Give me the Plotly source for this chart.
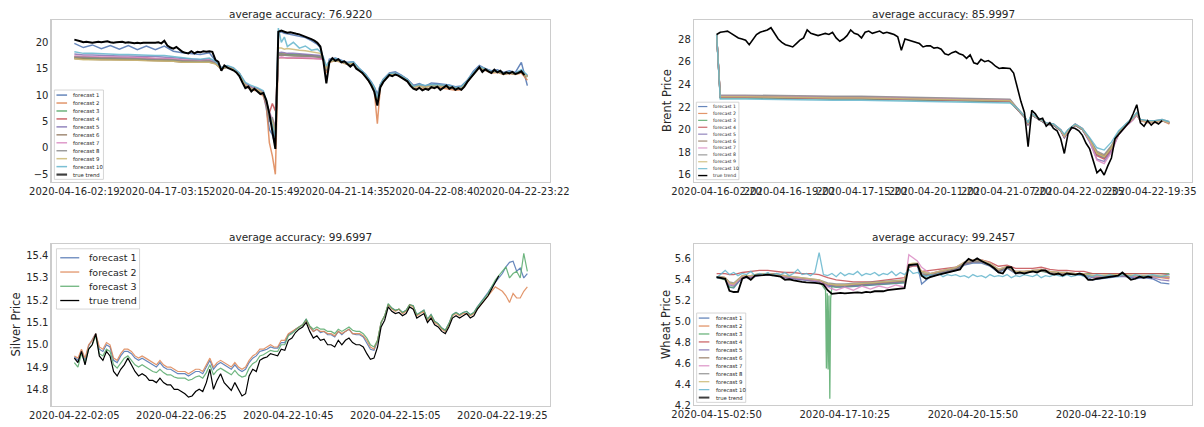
import plotly.graph_objects as go

W, H = 1204, 427
FONT = "DejaVu Sans"
INK = "#262626"
SPINE = "#cccccc"
PALETTE = ["#4C72B0", "#DD8452", "#55A868", "#C44E52", "#8172B3",
           "#937860", "#DA8BC3", "#8C8C8C", "#CCB974", "#64B5CD"]
LABELS10 = ["forecast 1", "forecast 2", "forecast 3", "forecast 4", "forecast 5",
            "forecast 6", "forecast 7", "forecast 8", "forecast 9", "forecast 10", "true trend"]
LABELS3 = ["forecast 1", "forecast 2", "forecast 3", "true trend"]

# ---------------- panel 1 ----------------
P1_TITLE = "average accuracy: 76.9220"
P1_XTICKS = [0, 30, 60, 90, 120, 150]
P1_XLABELS = ["2020-04-16-02:19", "2020-04-17-03:15", "2020-04-20-15:49",
              "2020-04-21-14:35", "2020-04-22-08:40", "2020-04-22-23:22"]
P1_YTICKS = [-5, 0, 5, 10, 15, 20]
P1_YLABELS = ["\u22125", "0", "5", "10", "15", "20"]
P1_TRUE = [20.5, 20.4, 20.2, 20.0, 20.1, 20.0, 19.9, 20.0, 20.1, 20.0,
           20.1, 20.2, 20.0, 19.9, 20.0, 20.1, 20.1, 19.9, 20.0, 19.9,
           19.8, 19.9, 19.8, 19.9, 19.9, 19.8, 19.9, 19.9, 20.0, 19.8,
           20.3, 19.4, 19.0, 18.8, 19.1, 18.6, 18.2, 18.0, 17.9, 18.3,
           17.9, 18.2, 18.1, 18.3, 18.2, 18.3, 18.2, 16.7, 16.3, 14.6,
           15.6, 15.2, 15.0, 14.7, 14.3, 13.6, 12.4, 11.3, 11.6, 10.7,
           11.2, 10.6, 10.2, 10.4, 9.0, 6.5, 3.5, -0.2, 22.0, 22.2,
           22.0, 21.8, 21.9, 21.7, 21.6, 21.5, 21.3, 21.1, 20.9, 20.6,
           20.3, 19.9, 19.2, 16.5, 12.2, 16.2, 17.0, 16.5, 16.8, 16.2,
           16.4, 15.8, 15.4, 15.9, 15.0, 14.6, 14.2, 13.5, 12.8, 11.8,
           10.6, 8.0, 11.5, 12.5, 13.2, 13.8, 13.6, 13.9, 13.7, 13.3,
           13.0, 12.6, 11.8, 11.2, 11.0, 11.4, 10.9, 11.2, 11.0, 11.5,
           11.3, 11.6, 11.0, 11.4, 11.8, 11.2, 11.5, 11.0, 11.3, 11.0,
           11.6, 12.5, 13.2, 14.0, 14.6, 15.3, 14.4, 14.9, 14.5, 14.2,
           14.8, 14.3, 14.6, 14.0, 14.3, 14.1, 14.4, 14.0, 14.2, 14.5,
           13.8]
P1_FX = [0, 3, 6, 9, 12, 15, 18, 21, 24, 27, 30, 33, 36, 39, 42, 45,
         47, 49, 51, 53, 55, 57, 59, 61, 63,
         64, 65, 66, 67,
         68, 69, 70, 71, 73, 75, 77, 79, 81, 82,
         83, 84, 85, 87, 89, 91, 93, 95, 97, 99, 100, 101, 102, 103,
         105, 107, 109, 111, 113, 115, 117, 119, 121, 123, 125, 127, 129, 131,
         133, 135, 137, 139, 141, 143, 145, 147, 149, 151]
P1_F1 = [19.8, 19.0, 19.5, 18.8, 19.4, 18.7, 19.4, 18.6, 19.3, 18.6, 19.3, 18.3, 18.0, 17.9, 17.7, 18.0,
         16.5, 15.0, 15.3, 14.9, 14.0, 11.8, 11.5, 11.0, 10.2,
         7.5, 3.5, 2.5, 0.5,
         21.8, 22.0, 21.7, 21.6, 21.4, 21.2, 20.9, 20.3, 19.6, 19.0,
         17.0, 14.5, 16.8, 17.0, 16.6, 16.2, 16.3, 15.0, 14.0, 12.5, 11.5, 10.2, 12.0, 13.0,
         14.2, 14.4, 13.8, 13.0, 11.8, 12.2, 11.7, 12.3, 12.2, 12.1, 11.9, 11.6, 11.7, 12.8,
         14.5, 15.6, 15.0, 14.6, 14.8, 14.3, 14.6, 14.3, 16.2, 11.8]
P1_F2 = [17.0, 16.9, 16.9, 16.8, 16.8, 16.8, 16.7, 16.7, 16.7, 16.6, 16.6, 16.5, 16.3, 16.3, 16.2, 16.3,
         16.0, 14.9, 15.3, 14.8, 13.8, 11.7, 11.0, 10.8, 9.8,
         8.0, 1.0, -1.5, -5.0,
         17.8, 17.9, 17.8, 17.8, 17.7, 17.7, 17.6, 17.5, 17.4, 17.3,
         16.6, 14.2, 16.2, 16.5, 16.2, 15.8, 15.9, 14.6, 13.6, 11.9, 10.6, 4.6, 11.5, 12.6,
         13.8, 13.9, 13.4, 12.6, 11.3, 11.3, 11.1, 11.4, 11.5, 11.3, 11.1, 10.9, 11.0, 12.5,
         14.0, 15.1, 14.7, 14.2, 14.3, 13.9, 14.1, 13.9, 14.2, 12.8]
P1_F3 = [17.1, 17.0, 17.0, 16.9, 16.9, 16.9, 16.8, 16.8, 16.8, 16.7, 16.7, 16.6, 16.4, 16.4, 16.3, 16.4,
         16.1, 15.0, 15.4, 15.0, 14.0, 12.0, 11.3, 11.1, 10.4,
         8.5, 6.0, 4.5, 3.0,
         17.7, 17.8, 17.7, 17.7, 17.6, 17.6, 17.5, 17.4, 17.3, 17.2,
         16.8, 14.7, 16.3, 16.6, 16.3, 15.9, 16.0, 14.7, 13.7, 12.1, 11.1, 9.0, 11.7, 12.7,
         13.9, 14.0, 13.5, 12.8, 11.6, 11.7, 11.5, 11.8, 11.8, 11.7, 11.5, 11.3, 11.3, 12.6,
         14.1, 15.2, 14.8, 14.3, 14.4, 14.0, 14.2, 14.0, 14.4, 13.4]
P1_F4 = [17.3, 17.2, 17.2, 17.1, 17.1, 17.1, 17.0, 17.0, 17.0, 16.9, 16.9, 16.8, 16.6, 16.6, 16.5, 16.6,
         16.2, 15.1, 15.4, 15.0, 14.1, 12.1, 11.5, 11.2, 10.6,
         8.0, 6.6, 8.4, 7.0,
         17.0, 17.1, 17.0, 17.0, 17.0, 17.0, 17.0, 16.9, 16.9, 16.9,
         16.8, 15.0, 16.4, 16.7, 16.4, 16.0, 16.1, 14.8, 13.8, 12.2, 11.2, 9.5, 11.8, 12.8,
         14.0, 14.1, 13.6, 12.9, 11.7, 11.8, 11.6, 11.9, 11.9, 11.8, 11.6, 11.4, 11.4, 12.7,
         14.2, 15.3, 14.9, 14.4, 14.5, 14.1, 14.3, 14.1, 14.5, 13.6]
P1_F5 = [17.8, 17.6, 17.6, 17.5, 17.5, 17.4, 17.4, 17.3, 17.3, 17.3, 17.2, 17.1, 16.9, 16.8, 16.7, 16.8,
         16.3, 15.2, 15.5, 15.1, 14.1, 12.2, 11.5, 11.2, 10.5,
         8.2, 5.5, 4.0, 2.0,
         18.0, 18.1, 18.0, 17.9, 17.9, 17.8, 17.8, 17.7, 17.6, 17.5,
         16.9, 14.9, 16.5, 16.8, 16.5, 16.1, 16.2, 14.9, 13.9, 12.3, 11.3, 9.4, 11.9, 12.9,
         14.1, 14.2, 13.7, 13.0, 11.8, 11.9, 11.7, 12.0, 12.0, 11.9, 11.7, 11.5, 11.5, 12.8,
         14.3, 15.4, 15.0, 14.5, 14.6, 14.2, 14.4, 14.2, 14.6, 13.7]
P1_F6 = [16.9, 16.8, 16.8, 16.7, 16.7, 16.7, 16.6, 16.6, 16.6, 16.5, 16.5, 16.4, 16.2, 16.2, 16.1, 16.2,
         16.0, 15.0, 15.3, 14.9, 13.9, 11.9, 11.2, 11.0, 10.3,
         8.8, 6.2, 4.8, 2.8,
         17.5, 17.6, 17.5, 17.5, 17.4, 17.4, 17.3, 17.3, 17.2, 17.1,
         16.7, 14.6, 16.3, 16.6, 16.3, 15.9, 16.0, 14.7, 13.7, 12.1, 11.1, 9.1, 11.7, 12.7,
         13.9, 14.0, 13.5, 12.8, 11.6, 11.7, 11.5, 11.8, 11.8, 11.7, 11.5, 11.3, 11.3, 12.6,
         14.1, 15.2, 14.8, 14.3, 14.4, 14.0, 14.2, 14.0, 14.4, 13.5]
P1_F7 = [17.4, 17.3, 17.3, 17.2, 17.2, 17.2, 17.1, 17.1, 17.0, 17.0, 17.0, 16.9, 16.7, 16.6, 16.6, 16.7,
         16.2, 15.1, 15.4, 15.0, 14.0, 12.0, 11.4, 11.1, 10.5,
         8.6, 6.8, 5.5, 4.0,
         17.1, 17.2, 17.1, 17.1, 17.1, 17.0, 17.0, 17.0, 16.9, 16.9,
         16.8, 14.9, 16.4, 16.7, 16.4, 16.0, 16.1, 14.8, 13.8, 12.2, 11.2, 9.3, 11.8, 12.8,
         14.0, 14.1, 13.6, 12.9, 11.7, 11.8, 11.6, 11.9, 11.9, 11.8, 11.6, 11.4, 11.4, 12.7,
         14.2, 15.3, 14.9, 14.4, 14.5, 14.1, 14.3, 14.1, 14.5, 13.6]
P1_F8 = [17.2, 17.1, 17.1, 17.0, 17.0, 17.0, 16.9, 16.9, 16.8, 16.8, 16.8, 16.7, 16.5, 16.4, 16.4, 16.5,
         16.1, 15.0, 15.3, 14.9, 13.9, 11.9, 11.3, 11.0, 10.4,
         8.4, 5.0, 5.8, 3.5,
         17.6, 17.7, 17.6, 17.6, 17.5, 17.5, 17.4, 17.4, 17.3, 17.2,
         16.8, 14.8, 16.4, 16.7, 16.4, 16.0, 16.1, 14.8, 13.8, 12.2, 11.2, 9.2, 11.8, 12.8,
         14.0, 14.1, 13.6, 12.9, 11.7, 11.8, 11.6, 11.9, 11.9, 11.8, 11.6, 11.4, 11.4, 12.7,
         14.2, 15.3, 14.9, 14.4, 14.5, 14.1, 14.3, 14.1, 14.5, 13.6]
P1_F9 = [16.9, 16.7, 16.7, 16.7, 16.6, 16.6, 16.6, 16.6, 16.5, 16.5, 16.5, 16.4, 16.2, 16.2, 16.1, 16.2,
         15.9, 15.0, 15.3, 14.9, 13.9, 11.9, 11.2, 11.0, 10.3,
         8.8, 6.0, 5.0, 2.5,
         18.9, 18.9, 18.7, 18.8, 18.6, 18.5, 18.4, 18.2, 18.0, 17.9,
         16.8, 15.0, 16.3, 16.6, 16.3, 15.9, 16.0, 14.7, 13.7, 12.1, 11.0, 9.0, 11.7, 12.7,
         13.9, 14.0, 13.5, 12.8, 11.6, 11.7, 11.5, 11.8, 11.8, 11.7, 11.5, 11.3, 11.3, 12.6,
         14.1, 15.2, 14.9, 14.3, 14.4, 14.1, 14.2, 14.1, 14.4, 13.5]
P1_F10 = [18.2, 17.9, 17.9, 17.8, 17.8, 17.7, 17.7, 17.6, 17.6, 17.5, 17.5, 17.3, 17.0, 16.9, 16.8, 17.0,
          16.4, 15.2, 15.6, 15.2, 14.2, 12.4, 11.8, 11.4, 10.8,
          9.0, 6.5, 4.5, 2.0,
          22.7, 20.0, 21.0, 19.2, 20.0, 18.9, 19.3, 18.5, 18.7, 18.2,
          17.2, 15.5, 16.5, 16.9, 16.5, 16.1, 16.3, 15.0, 14.0, 12.4, 11.5, 9.5, 12.0, 13.0,
          14.1, 14.2, 13.7, 13.0, 11.7, 12.0, 11.8, 12.0, 12.0, 11.9, 11.8, 11.5, 11.6, 12.8,
          14.3, 15.4, 15.0, 14.5, 14.6, 14.2, 14.4, 14.2, 14.8, 13.8]

# ---------------- panel 2 ----------------
P2_TITLE = "average accuracy: 85.9997"
P2_YTITLE = "Brent Price"
P2_XTICKS = [0, 20, 40, 60, 80, 100, 120]
P2_XLABELS = ["2020-04-16-02:20", "2020-04-16-19:20", "2020-04-17-15:20", "2020-04-20-11:20",
              "2020-04-21-07:20", "2020-04-22-02:35", "2020-04-22-19:35"]
P2_YTICKS = [16, 18, 20, 22, 24, 26, 28]
P2_YLABELS = ["16", "18", "20", "22", "24", "26", "28"]
P2_TRUE = [28.4, 28.6, 28.65, 28.7, 28.5, 28.3, 28.1, 28.0, 27.9, 27.5,
           27.9, 28.4, 28.6, 28.7, 28.8, 29.0, 28.5, 28.0, 27.7, 27.5,
           27.4, 27.3, 27.6, 27.9, 28.1, 28.8, 28.5, 28.4, 28.3, 28.4,
           28.5, 28.4, 28.6, 28.1, 27.8, 28.0, 28.3, 28.8, 28.5, 28.4,
           28.1, 28.6, 28.7, 28.5, 28.6, 28.7, 28.5, 28.6, 28.5, 28.4,
           28.2, 27.0, 28.0, 27.9, 27.85, 27.7, 27.6, 27.3, 27.4, 27.4,
           27.2, 27.25, 27.1, 26.7, 26.6, 26.8, 26.9, 26.7, 26.6, 26.3,
           26.6, 25.9, 25.8, 26.2, 26.0, 26.1, 25.9, 25.6, 25.4, 25.45,
           25.4, 25.4, 25.0, 23.7, 22.5, 21.5, 18.5, 21.7, 21.4, 20.9,
           21.0, 20.3, 20.6, 20.1, 19.9, 19.2, 17.9, 19.6, 20.2, 20.1,
           19.9, 19.5, 18.8, 18.3, 17.2, 16.2, 16.5, 16.0, 16.8, 17.5,
           19.2, 19.6, 20.0, 20.4, 20.7, 21.4, 22.2, 20.6, 20.3, 20.8,
           20.4, 20.7, 20.5, 20.8]
P2_FX = [0, 1, 8, 16, 24, 32, 40, 48, 56, 64, 72, 78, 81,
         83, 85, 86, 87, 89, 91, 93, 95, 96, 97, 99,
         101, 103, 105, 107, 109, 111, 113, 115, 116, 117, 119, 121, 123, 125]
P2_F1 = [28.4, 22.85, 22.85, 22.8, 22.8, 22.75, 22.75, 22.7, 22.7, 22.65, 22.6, 22.55, 22.5,
         21.8, 21.1, 20.4, 21.3, 20.9, 20.5, 20.4, 19.9, 19.3, 19.8, 20.4,
         20.0, 19.0, 17.8, 17.5, 18.3, 19.7, 20.4, 21.0, 21.4, 20.8, 20.7, 20.7, 20.8, 20.6]
P2_F2 = [28.4, 22.9, 22.9, 22.85, 22.85, 22.8, 22.8, 22.75, 22.75, 22.7, 22.65, 22.6, 22.55,
         21.85, 21.15, 20.5, 21.35, 20.95, 20.55, 20.45, 19.95, 19.4, 19.9, 20.45,
         20.05, 19.1, 18.0, 17.7, 18.5, 19.8, 20.4, 21.0, 21.4, 20.8, 20.6, 20.6, 20.8, 20.5]
P2_F3 = [28.4, 22.8, 22.8, 22.75, 22.75, 22.7, 22.7, 22.65, 22.65, 22.6, 22.55, 22.5, 22.45,
         21.8, 21.1, 20.5, 21.3, 20.9, 20.5, 20.4, 19.9, 19.4, 19.9, 20.4,
         20.0, 19.1, 17.9, 17.6, 18.4, 19.7, 20.4, 21.0, 21.4, 20.8, 20.7, 20.7, 20.8, 20.6]
P2_F4 = [28.4, 22.85, 22.85, 22.8, 22.8, 22.75, 22.75, 22.7, 22.7, 22.65, 22.6, 22.55, 22.5,
         21.8, 21.1, 20.4, 21.3, 20.9, 20.5, 20.4, 19.9, 19.3, 19.8, 20.4,
         20.0, 19.0, 17.7, 17.4, 18.2, 19.6, 20.3, 20.9, 21.3, 20.8, 20.7, 20.7, 20.8, 20.6]
P2_F5 = [28.4, 22.9, 22.9, 22.85, 22.85, 22.8, 22.8, 22.75, 22.75, 22.7, 22.65, 22.6, 22.55,
         21.8, 21.1, 20.4, 21.3, 20.9, 20.5, 20.4, 19.9, 19.3, 19.8, 20.4,
         20.0, 18.9, 17.4, 17.2, 18.1, 19.6, 20.3, 20.9, 21.3, 20.8, 20.7, 20.7, 20.8, 20.6]
P2_F6 = [28.4, 22.95, 22.95, 22.9, 22.9, 22.85, 22.85, 22.8, 22.8, 22.75, 22.7, 22.65, 22.6,
         21.85, 21.15, 20.5, 21.35, 20.95, 20.55, 20.45, 19.95, 19.4, 19.9, 20.45,
         20.05, 19.1, 17.9, 17.6, 18.4, 19.7, 20.4, 21.0, 21.4, 20.8, 20.7, 20.7, 20.8, 20.6]
P2_F7 = [28.4, 23.0, 23.0, 22.95, 22.95, 22.9, 22.9, 22.85, 22.85, 22.8, 22.75, 22.7, 22.65,
         21.9, 21.2, 20.5, 21.4, 21.0, 20.6, 20.5, 20.0, 19.4, 19.9, 20.5,
         20.1, 19.0, 17.3, 17.0, 18.0, 19.6, 20.3, 20.9, 21.3, 20.8, 20.7, 20.7, 20.8, 20.6]
P2_F8 = [28.4, 23.05, 23.05, 23.0, 23.0, 22.95, 22.95, 22.9, 22.9, 22.85, 22.8, 22.75, 22.7,
         21.9, 21.2, 20.6, 21.4, 21.0, 20.6, 20.5, 20.0, 19.5, 20.0, 20.5,
         20.1, 19.2, 18.1, 17.8, 18.6, 19.8, 20.5, 21.1, 21.5, 20.9, 20.8, 20.8, 20.9, 20.7]
P2_F9 = [28.4, 22.9, 22.9, 22.85, 22.85, 22.8, 22.8, 22.75, 22.75, 22.7, 22.65, 22.6, 22.55,
         21.85, 21.15, 20.5, 21.35, 20.95, 20.55, 20.45, 19.95, 19.4, 19.9, 20.45,
         20.05, 19.1, 17.9, 17.6, 18.4, 19.7, 20.4, 21.0, 21.4, 20.8, 20.7, 20.7, 20.8, 20.6]
P2_F10 = [28.4, 22.7, 22.7, 22.65, 22.65, 22.6, 22.6, 22.55, 22.55, 22.5, 22.45, 22.4, 22.35,
          21.9, 21.2, 20.6, 21.4, 21.0, 20.6, 20.5, 20.0, 19.6, 20.0, 20.5,
          20.1, 19.3, 18.4, 18.2, 18.9, 19.9, 20.5, 21.1, 21.5, 20.9, 20.8, 20.8, 20.9, 20.7]

# ---------------- panel 3 ----------------
P3_TITLE = "average accuracy: 99.6997"
P3_YTITLE = "Silver Price"
P3_XTICKS = [0, 30, 60, 90, 120]
P3_XLABELS = ["2020-04-22-02:05", "2020-04-22-06:25", "2020-04-22-10:45",
              "2020-04-22-15:05", "2020-04-22-19:25"]
P3_YTICKS = [14.8, 14.9, 15.0, 15.1, 15.2, 15.3, 15.4]
P3_YLABELS = ["14.8", "14.9", "15.0", "15.1", "15.2", "15.3", "15.4"]
P3_TRUE = [14.94, 14.92, 14.97, 14.91, 14.98, 15.00, 15.05, 14.95, 14.93, 14.97,
           14.95, 14.88, 14.86, 14.89, 14.91, 14.94, 14.91, 14.88, 14.86, 14.87,
           14.86, 14.84, 14.84, 14.83, 14.85, 14.83, 14.82, 14.82, 14.80, 14.80,
           14.79, 14.78, 14.765, 14.77, 14.79, 14.80, 14.79, 14.83, 14.89, 14.80,
           14.84, 14.87, 14.83, 14.81, 14.795, 14.83, 14.80, 14.77, 14.78, 14.86,
           14.89, 14.88, 14.93, 14.94, 14.945, 14.96, 14.955, 14.95, 14.98, 14.975,
           15.02, 15.03, 15.055, 15.07, 15.08, 15.10, 15.06, 15.03, 15.04, 15.02,
           15.025, 15.00, 15.00, 14.99, 15.02, 15.00, 15.02, 15.03, 15.01, 15.00,
           15.00, 14.99, 14.96, 14.935, 14.94, 14.99, 15.08, 15.11, 15.17, 15.15,
           15.14, 15.145, 15.13, 15.14, 15.17, 15.16, 15.12, 15.13, 15.14, 15.10,
           15.12, 15.09, 15.08, 15.06, 15.05, 15.08, 15.12, 15.13, 15.12, 15.13,
           15.14, 15.12, 15.13, 15.16, 15.18, 15.20, 15.22, 15.25, 15.28, 15.31]
P3_F1 = [14.945, 14.93, 14.975, 14.93, 14.995, 15.02, 15.05, 14.98, 14.97, 15.00,
         14.99, 14.93, 14.92, 14.95, 14.97, 14.97, 14.96, 14.94, 14.93, 14.94,
         14.93, 14.92, 14.91, 14.90, 14.92, 14.90, 14.89, 14.89, 14.88, 14.87,
         14.87, 14.87, 14.86, 14.87, 14.88, 14.88, 14.87, 14.90, 14.93, 14.89,
         14.91, 14.92, 14.91, 14.90, 14.89, 14.91, 14.89, 14.88, 14.89, 14.92,
         14.94, 14.95, 14.97, 14.975, 14.98, 14.99, 14.985, 14.985, 15.01, 15.01,
         15.045, 15.055, 15.07, 15.08, 15.09, 15.115, 15.08, 15.06, 15.07, 15.055,
         15.06, 15.045, 15.045, 15.035, 15.06, 15.045, 15.06, 15.07, 15.05, 15.045,
         15.045, 15.035, 15.01, 14.98, 14.975, 15.015, 15.10, 15.13, 15.18, 15.165,
         15.155, 15.16, 15.145, 15.155, 15.18, 15.175, 15.135, 15.145, 15.155, 15.115,
         15.135, 15.105, 15.095, 15.075, 15.065, 15.095, 15.135, 15.145, 15.135, 15.145,
         15.15, 15.135, 15.145, 15.17, 15.19, 15.21, 15.235, 15.26, 15.28, 15.30,
         15.32, 15.35, 15.37, 15.375, 15.33, 15.345, 15.30, 15.32]
P3_F2 = [14.95, 14.94, 14.98, 14.94, 15.00, 15.02, 15.05, 14.99, 14.98, 15.01,
         15.00, 14.94, 14.93, 14.96, 14.98, 14.98, 14.97, 14.95, 14.94, 14.95,
         14.94, 14.93, 14.92, 14.91, 14.93, 14.91, 14.90, 14.90, 14.89, 14.88,
         14.88, 14.88, 14.87, 14.88, 14.89, 14.89, 14.88, 14.91, 14.94, 14.90,
         14.92, 14.93, 14.92, 14.91, 14.90, 14.92, 14.90, 14.89, 14.90, 14.93,
         14.95, 14.96, 14.98, 14.98, 14.99, 15.00, 14.99, 14.99, 15.02, 15.02,
         15.05, 15.06, 15.07, 15.08, 15.09, 15.11, 15.08, 15.06, 15.07, 15.06,
         15.06, 15.05, 15.05, 15.04, 15.06, 15.05, 15.06, 15.07, 15.05, 15.05,
         15.05, 15.04, 15.02, 14.99, 14.98, 15.02, 15.10, 15.13, 15.18, 15.16,
         15.15, 15.16, 15.14, 15.15, 15.18, 15.17, 15.13, 15.14, 15.15, 15.11,
         15.13, 15.10, 15.09, 15.07, 15.06, 15.09, 15.13, 15.14, 15.13, 15.14,
         15.14, 15.13, 15.14, 15.16, 15.18, 15.20, 15.22, 15.24, 15.26, 15.25,
         15.24, 15.22, 15.19, 15.23, 15.21, 15.21, 15.24, 15.26]
P3_F3 = [14.92, 14.90, 14.96, 14.92, 14.98, 15.00, 15.04, 14.96, 14.95, 14.98,
         14.97, 14.91, 14.895, 14.92, 14.94, 14.95, 14.93, 14.91, 14.90, 14.91,
         14.90, 14.89, 14.88, 14.875, 14.89, 14.875, 14.865, 14.865, 14.855, 14.85,
         14.85, 14.85, 14.84, 14.845, 14.855, 14.86, 14.85, 14.875, 14.91, 14.865,
         14.885, 14.895, 14.885, 14.875, 14.865, 14.885, 14.865, 14.855, 14.86, 14.895,
         14.915, 14.925, 14.95, 14.955, 14.965, 14.975, 14.97, 14.97, 15.00, 15.00,
         15.04, 15.05, 15.065, 15.08, 15.09, 15.115, 15.085, 15.07, 15.08, 15.07,
         15.07, 15.06, 15.06, 15.05, 15.07, 15.06, 15.07, 15.08, 15.065, 15.06,
         15.06, 15.05, 15.03, 15.00, 14.99, 15.02, 15.10, 15.13, 15.185, 15.165,
         15.155, 15.16, 15.145, 15.155, 15.18, 15.175, 15.135, 15.145, 15.155, 15.115,
         15.135, 15.105, 15.095, 15.075, 15.065, 15.095, 15.135, 15.145, 15.135, 15.145,
         15.15, 15.135, 15.145, 15.17, 15.19, 15.21, 15.23, 15.26, 15.29, 15.31,
         15.33, 15.35, 15.30, 15.32, 15.33, 15.30, 15.41, 15.33]

# ---------------- panel 4 ----------------
P4_TITLE = "average accuracy: 99.2457"
P4_YTITLE = "Wheat Price"
P4_XTICKS = [0, 30, 60, 90]
P4_XLABELS = ["2020-04-15-02:50", "2020-04-17-10:25", "2020-04-20-15:50", "2020-04-22-10:19"]
P4_YTICKS = [4.2, 4.4, 4.6, 4.8, 5.0, 5.2, 5.4, 5.6]
P4_YLABELS = ["4.2", "4.4", "4.6", "4.8", "5.0", "5.2", "5.4", "5.6"]
P4_TRUE = [5.425, 5.415, 5.41, 5.295, 5.283, 5.285, 5.41, 5.43, 5.40, 5.44,
           5.44, 5.445, 5.45, 5.445, 5.44, 5.43, 5.40, 5.405, 5.395, 5.385,
           5.38, 5.375, 5.375, 5.37, 5.365, 5.355, 5.30, 5.265, 5.27, 5.275,
           5.27, 5.275, 5.28, 5.28, 5.275, 5.285, 5.28, 5.29, 5.29, 5.29,
           5.30, 5.305, 5.305, 5.315, 5.32, 5.54, 5.545, 5.55, 5.44, 5.41,
           5.425, 5.44, 5.45, 5.46, 5.47, 5.48, 5.49, 5.50, 5.56, 5.60,
           5.58, 5.605, 5.58, 5.56, 5.54, 5.51, 5.47, 5.46, 5.52, 5.52,
           5.46, 5.47, 5.46, 5.47, 5.48, 5.47, 5.49, 5.49, 5.46, 5.45,
           5.46, 5.44, 5.46, 5.455, 5.45, 5.46, 5.445, 5.40, 5.40, 5.41,
           5.415, 5.42, 5.425, 5.43, 5.44, 5.47, 5.43, 5.40, 5.41, 5.43,
           5.42, 5.43, 5.42]
P4_FX = [0, 2, 3, 4, 6,
         8, 10, 12, 14, 16, 18, 20, 22, 24,
         26, 28, 30, 32, 34, 36, 38, 40, 42, 44,
         45, 46, 47, 48,
         50, 52, 54, 56, 58, 60, 62, 64, 66,
         68, 70, 72, 74, 76, 78, 80, 82, 84, 86,
         88, 90, 92, 94, 96, 98, 100, 102, 104, 106]
P4_F1 = [5.42, 5.41, 5.33, 5.32, 5.42,
         5.42, 5.45, 5.45, 5.45, 5.42, 5.41, 5.40, 5.39, 5.385,
         5.34, 5.33, 5.33, 5.335, 5.34, 5.345, 5.35, 5.355, 5.36, 5.37,
         5.53, 5.54, 5.54, 5.36,
         5.43, 5.45, 5.47, 5.49, 5.54, 5.56, 5.56, 5.53, 5.47,
         5.51, 5.46, 5.46, 5.48, 5.49, 5.46, 5.46, 5.46, 5.45, 5.44,
         5.40, 5.41, 5.42, 5.43, 5.43, 5.41, 5.42, 5.41, 5.37, 5.36]
P4_F2 = [5.43, 5.42, 5.36, 5.35, 5.43,
         5.43, 5.45, 5.46, 5.45, 5.43, 5.42, 5.41, 5.40, 5.39,
         5.35, 5.34, 5.34, 5.345, 5.35, 5.355, 5.36, 5.365, 5.37, 5.38,
         5.53, 5.54, 5.545, 5.45,
         5.44, 5.46, 5.48, 5.50, 5.55, 5.57, 5.57, 5.54, 5.48,
         5.52, 5.47, 5.47, 5.48, 5.49, 5.47, 5.46, 5.46, 5.455, 5.45,
         5.42, 5.42, 5.43, 5.44, 5.44, 5.43, 5.43, 5.43, 5.42, 5.41]
P4_GX = [0, 2, 3, 4, 6,
         8, 10, 12, 14, 16, 18, 20, 22, 24,
         25.5, 25.7, 25.9, 26.1, 26.3, 26.5, 26.7,
         27, 28,
         30, 32, 34, 36, 38, 40, 42, 44,
         45, 46, 47, 48,
         50, 52, 54, 56, 58, 60, 62, 64, 66,
         68, 70, 72, 74, 76, 78, 80, 82, 84, 86,
         88, 90, 92, 94, 96, 98, 100, 102, 104, 106]
P4_F3 = [5.42, 5.40, 5.33, 5.33, 5.43,
         5.43, 5.45, 5.46, 5.45, 5.43, 5.42, 5.41, 5.40, 5.39,
         5.30, 4.55, 5.27, 4.54, 5.25, 4.26, 5.22,
         5.34, 5.33,
         5.335, 5.34, 5.345, 5.35, 5.355, 5.36, 5.365, 5.375,
         5.53, 5.54, 5.54, 5.44,
         5.44, 5.46, 5.48, 5.50, 5.55, 5.57, 5.57, 5.54, 5.48,
         5.52, 5.47, 5.47, 5.48, 5.48, 5.47, 5.47, 5.46, 5.46, 5.46,
         5.46, 5.46, 5.46, 5.46, 5.46, 5.46, 5.46, 5.46, 5.46, 5.46]
P4_F4 = [5.46, 5.46, 5.45, 5.45, 5.47,
         5.48, 5.49, 5.49, 5.48, 5.47, 5.47, 5.46, 5.46, 5.45,
         5.42, 5.40, 5.39, 5.38, 5.38, 5.38, 5.39, 5.40, 5.41, 5.42,
         5.52, 5.53, 5.53, 5.48,
         5.49, 5.50, 5.51, 5.52, 5.55, 5.58, 5.59, 5.57, 5.53,
         5.54, 5.51, 5.51, 5.51, 5.52, 5.50, 5.49, 5.49, 5.48, 5.48,
         5.46, 5.46, 5.46, 5.46, 5.46, 5.46, 5.46, 5.46, 5.46, 5.45]
P4_F5 = [5.42, 5.41, 5.35, 5.34, 5.42,
         5.42, 5.44, 5.45, 5.44, 5.42, 5.41, 5.40, 5.39, 5.38,
         5.35, 5.34, 5.34, 5.345, 5.35, 5.355, 5.36, 5.37, 5.375, 5.385,
         5.53, 5.535, 5.54, 5.45,
         5.44, 5.46, 5.48, 5.50, 5.55, 5.57, 5.57, 5.54, 5.48,
         5.52, 5.47, 5.47, 5.48, 5.49, 5.47, 5.46, 5.46, 5.455, 5.45,
         5.42, 5.42, 5.43, 5.44, 5.43, 5.42, 5.42, 5.42, 5.40, 5.39]
P4_F6 = [5.43, 5.42, 5.37, 5.36, 5.43,
         5.43, 5.45, 5.46, 5.45, 5.43, 5.42, 5.41, 5.40, 5.39,
         5.36, 5.35, 5.35, 5.355, 5.36, 5.365, 5.37, 5.375, 5.38, 5.39,
         5.54, 5.545, 5.55, 5.46,
         5.45, 5.47, 5.49, 5.51, 5.56, 5.58, 5.58, 5.55, 5.49,
         5.52, 5.47, 5.47, 5.48, 5.49, 5.47, 5.46, 5.46, 5.455, 5.45,
         5.43, 5.43, 5.44, 5.44, 5.44, 5.43, 5.43, 5.43, 5.43, 5.42]
P4_F7 = [5.43, 5.42, 5.36, 5.35, 5.43,
         5.43, 5.45, 5.46, 5.45, 5.43, 5.42, 5.41, 5.40, 5.39,
         5.33, 5.30, 5.33, 5.30, 5.34, 5.31, 5.34, 5.32, 5.35, 5.33,
         5.64, 5.61, 5.58, 5.52,
         5.46, 5.48, 5.50, 5.52, 5.57, 5.59, 5.59, 5.56, 5.50,
         5.53, 5.48, 5.48, 5.49, 5.50, 5.48, 5.47, 5.47, 5.46, 5.46,
         5.43, 5.43, 5.44, 5.44, 5.44, 5.43, 5.43, 5.43, 5.43, 5.42]
P4_F8 = [5.43, 5.42, 5.38, 5.37, 5.44,
         5.44, 5.46, 5.46, 5.46, 5.44, 5.43, 5.42, 5.41, 5.40,
         5.37, 5.36, 5.36, 5.365, 5.37, 5.375, 5.38, 5.385, 5.39, 5.40,
         5.54, 5.55, 5.55, 5.47,
         5.46, 5.48, 5.50, 5.52, 5.56, 5.58, 5.58, 5.55, 5.50,
         5.52, 5.48, 5.48, 5.49, 5.49, 5.48, 5.47, 5.47, 5.46, 5.46,
         5.44, 5.44, 5.44, 5.45, 5.44, 5.44, 5.44, 5.44, 5.43, 5.43]
P4_F9 = [5.43, 5.42, 5.37, 5.36, 5.44,
         5.44, 5.46, 5.46, 5.45, 5.44, 5.43, 5.42, 5.41, 5.40,
         5.36, 5.35, 5.35, 5.36, 5.365, 5.37, 5.375, 5.38, 5.39, 5.40,
         5.55, 5.56, 5.56, 5.48,
         5.46, 5.48, 5.50, 5.52, 5.57, 5.59, 5.59, 5.56, 5.50,
         5.53, 5.48, 5.48, 5.49, 5.50, 5.48, 5.47, 5.47, 5.46, 5.46,
         5.44, 5.44, 5.45, 5.45, 5.45, 5.44, 5.44, 5.44, 5.44, 5.43]
P4_F10 = [5.42, 5.46, 5.49, 5.45, 5.47, 5.44, 5.46, 5.45, 5.48, 5.44,
          5.46, 5.45, 5.47, 5.44, 5.46, 5.45, 5.47, 5.44, 5.46, 5.50,
          5.45, 5.46, 5.44, 5.47, 5.66, 5.45, 5.44, 5.46, 5.43, 5.47,
          5.44, 5.46, 5.45, 5.48, 5.44, 5.46, 5.45, 5.47, 5.44, 5.46,
          5.45, 5.48, 5.44, 5.47, 5.45, 5.50, 5.46, 5.47,
          5.45, 5.43, 5.45, 5.44, 5.46, 5.43, 5.45, 5.44, 5.45, 5.43,
          5.44, 5.42, 5.45, 5.43, 5.44, 5.42, 5.45, 5.43, 5.44, 5.43,
          5.45, 5.42, 5.44, 5.43, 5.45, 5.44, 5.43, 5.45, 5.42, 5.44,
          5.43, 5.45, 5.44, 5.43, 5.45, 5.43, 5.44, 5.45, 5.43, 5.44,
          5.43, 5.45, 5.44, 5.43, 5.45, 5.44, 5.43, 5.45, 5.44, 5.43,
          5.45, 5.44, 5.43, 5.44, 5.45, 5.44, 5.43, 5.44, 5.45]

for arr in [P1_F1, P1_F2, P1_F3, P1_F4, P1_F5, P1_F6, P1_F7, P1_F8, P1_F9, P1_F10]:
    assert len(arr) == len(P1_FX), len(arr)
for arr in [P2_F1, P2_F2, P2_F3, P2_F4, P2_F5, P2_F6, P2_F7, P2_F8, P2_F9, P2_F10]:
    assert len(arr) == len(P2_FX), len(arr)
for arr in [P4_F1, P4_F2, P4_F4, P4_F5, P4_F6, P4_F7, P4_F8, P4_F9]:
    assert len(arr) == len(P4_FX), len(arr)
assert len(P4_F3) == len(P4_GX)
assert len(P3_F1) == len(P3_F2) == len(P3_F3) == 128

# ---------------- layout helpers ----------------
BOX1 = (51.7, 550.0, 20.0, 182.0)   # left, right, top, bottom in px
BOX2 = (694.0, 1192.0, 20.0, 182.0)
BOX3 = (51.7, 550.0, 244.0, 406.0)
BOX4 = (694.0, 1192.0, 244.0, 405.0)

fig = go.Figure()
shapes = []
annotations = []


def setup_axes(n, box, xr, yr, xt, xl, yt, yl, title):
    s = "" if n == 1 else str(n)
    common = dict(showline=True, mirror=True, linecolor=SPINE, linewidth=1.25,
                  showgrid=False, zeroline=False, ticks="", automargin=False,
                  tickfont=dict(family=FONT, size=10, color=INK), fixedrange=True)
    fig.update_layout(**{
        "xaxis" + s: dict(domain=[box[0] / W, box[1] / W], range=xr, anchor="y" + s,
                          tickmode="array", tickvals=xt, ticktext=xl, tickangle=0, **common),
        "yaxis" + s: dict(domain=[1 - box[3] / H, 1 - box[2] / H], range=yr, anchor="x" + s,
                          tickmode="array", tickvals=yt, ticktext=yl, **common)})
    annotations.append(dict(xref="paper", yref="paper", x=(box[0] + box[1]) / 2 / W,
                            y=1 - (box[2] - 6.5) / H, xanchor="center", yanchor="middle",
                            text=title, showarrow=False,
                            font=dict(family=FONT, size=10.5, color=INK)))
    return "x" + s, "y" + s


def add_line(xa, ya, xs, ys, color, width, opacity=1.0):
    fig.add_trace(go.Scatter(x=xs, y=ys, mode="lines", xaxis=xa, yaxis=ya,
                             line=dict(color=color, width=width), opacity=opacity,
                             showlegend=False, hoverinfo="skip"))


def add_legend(left, top, fs, labels, colors, widths, opacities):
    row = 1.5 * fs
    height = fs * (1.5 * len(labels) + 0.35)
    width = 3.6 * fs + 0.515 * fs * max(len(t) for t in labels)
    shapes.append(dict(type="rect", xref="paper", yref="paper",
                       x0=left / W, x1=(left + width) / W,
                       y0=1 - (top + height) / H, y1=1 - top / H,
                       fillcolor="rgba(255,255,255,0.8)", line=dict(color=SPINE, width=0.8)))
    for k, lab in enumerate(labels):
        yc = top + 0.95 * fs + row * k
        shapes.append(dict(type="line", xref="paper", yref="paper",
                           x0=(left + 0.4 * fs) / W, x1=(left + 2.4 * fs) / W,
                           y0=1 - yc / H, y1=1 - yc / H, opacity=opacities[k],
                           line=dict(color=colors[k], width=widths[k])))
        annotations.append(dict(xref="paper", yref="paper", x=(left + 3.2 * fs) / W,
                                y=1 - yc / H, xanchor="left", yanchor="middle",
                                text=lab, showarrow=False,
                                font=dict(family=FONT, size=fs, color=INK)))


def ytitle(text, xpx, box):
    annotations.append(dict(xref="paper", yref="paper", x=xpx / W,
                            y=1 - (box[2] + box[3]) / 2 / H, text=text, textangle=-90,
                            xanchor="center", yanchor="middle", showarrow=False,
                            font=dict(family=FONT, size=11.5, color=INK)))


# ---------------- panel 1 ----------------
xa, ya = setup_axes(1, BOX1, [-7.55, 158.55], [-6.46, 24.22],
                    P1_XTICKS, P1_XLABELS, P1_YTICKS, P1_YLABELS, P1_TITLE)
P1_FS = [P1_F1, P1_F2, P1_F3, P1_F4, P1_F5, P1_F6, P1_F7, P1_F8, P1_F9, P1_F10]
for c, ys in zip(PALETTE, P1_FS):
    add_line(xa, ya, P1_FX, ys, c, 1.5, 0.85)
add_line(xa, ya, list(range(len(P1_TRUE))), P1_TRUE, "black", 2.0)
fs = 5.3
add_legend(BOX1[0] + 0.5 * fs, BOX1[3] - 0.5 * fs - fs * (1.5 * 11 + 0.35), fs, LABELS10,
           PALETTE + ["black"], [1.5] * 10 + [2.2], [0.85] * 10 + [0.75])

# ---------------- panel 2 ----------------
xa, ya = setup_axes(2, BOX2, [-6.25, 131.25], [15.38, 29.68],
                    P2_XTICKS, P2_XLABELS, P2_YTICKS, P2_YLABELS, P2_TITLE)
P2_FS = [P2_F1, P2_F2, P2_F3, P2_F4, P2_F5, P2_F6, P2_F7, P2_F8, P2_F9, P2_F10]
for c, ys in zip(PALETTE, P2_FS):
    add_line(xa, ya, P2_FX, ys, c, 1.4, 0.85)
add_line(xa, ya, list(range(len(P2_TRUE))), P2_TRUE, "black", 1.6)
fs = 4.6
add_legend(BOX2[0] + 0.5 * fs, BOX2[3] - 0.5 * fs - fs * (1.5 * 11 + 0.35), fs, LABELS10,
           PALETTE + ["black"], [1.2] * 10 + [1.4], [0.85] * 10 + [1.0])
ytitle(P2_YTITLE, 667, BOX2)

# ---------------- panel 3 ----------------
xa, ya = setup_axes(3, BOX3, [-6.35, 133.35], [14.725, 15.4525],
                    P3_XTICKS, P3_XLABELS, P3_YTICKS, P3_YLABELS, P3_TITLE)
P3_X = list(range(len(P3_F1)))
for c, ys in zip(PALETTE[:3], [P3_F1, P3_F2, P3_F3]):
    add_line(xa, ya, P3_X, ys, c, 1.2, 0.85)
add_line(xa, ya, list(range(len(P3_TRUE))), P3_TRUE, "black", 1.2)
fs = 9.5
add_legend(BOX3[0] + 0.5 * fs, BOX3[2] + 0.5 * fs, fs, LABELS3,
           PALETTE[:3] + ["black"], [1.3] * 4, [0.85] * 3 + [1.0])
ytitle(P3_YTITLE, 15.5, BOX3)

# ---------------- panel 4 ----------------
xa, ya = setup_axes(4, BOX4, [-5.3, 111.3], [4.2, 5.743],
                    P4_XTICKS, P4_XLABELS, P4_YTICKS, P4_YLABELS, P4_TITLE)
P4_SERIES = [(P4_FX, P4_F1), (P4_FX, P4_F2), (P4_GX, P4_F3), (P4_FX, P4_F4), (P4_FX, P4_F5),
             (P4_FX, P4_F6), (P4_FX, P4_F7), (P4_FX, P4_F8), (P4_FX, P4_F9),
             (list(range(len(P4_F10))), P4_F10)]
for c, (xs, ys) in zip(PALETTE, P4_SERIES):
    add_line(xa, ya, xs, ys, c, 1.3, 0.85)
add_line(xa, ya, list(range(len(P4_TRUE))), P4_TRUE, "black", 1.8)
fs = 5.3
add_legend(BOX4[0] + 0.5 * fs, BOX4[3] - 0.5 * fs - fs * (1.5 * 11 + 0.35), fs, LABELS10,
           PALETTE + ["black"], [1.3] * 10 + [2.0], [0.85] * 10 + [0.75])
ytitle(P4_YTITLE, 665.5, BOX4)

fig.update_layout(width=W, height=H, margin=dict(l=0, r=0, t=0, b=0), autosize=False,
                  template="none", paper_bgcolor="white", plot_bgcolor="white",
                  showlegend=False, shapes=shapes, annotations=annotations,
                  font=dict(family=FONT, color=INK))
fig.write_html("out.html",
               config={"displayModeBar": False, "staticPlot": True},
               post_script="document.body.style.margin='0';document.body.style.overflow='hidden';")
